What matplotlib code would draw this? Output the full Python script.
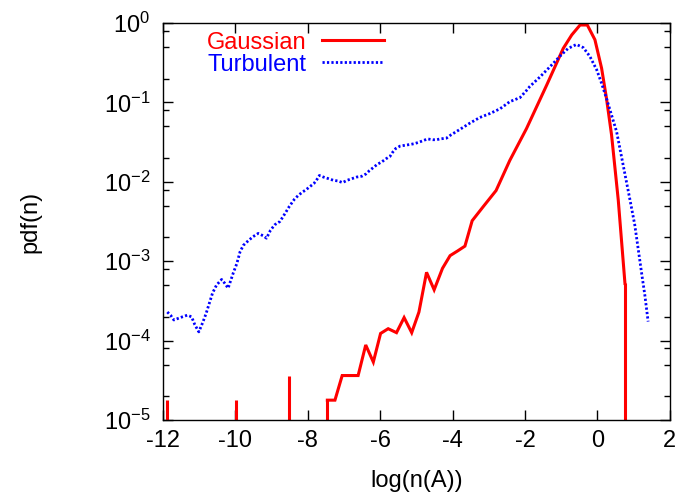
import numpy as np
import matplotlib
matplotlib.use('Agg')
import matplotlib.pyplot as plt
from matplotlib.ticker import LogLocator, FixedLocator, NullLocator

plt.rcParams['font.family'] = ['Liberation Sans', 'DejaVu Sans']
plt.rcParams['mathtext.fontset'] = 'custom'
plt.rcParams['mathtext.rm'] = 'Liberation Sans'
plt.rcParams['mathtext.default'] = 'regular'
plt.rcParams['axes.unicode_minus'] = False

# Gaussian pdf, continuous part (x = log(n), log10 of pdf)
gauss_x = [-7.46, -7.25, -7.05, -6.83, -6.61, -6.40, -6.19, -5.99, -5.78, -5.55,
           -5.34, -5.13, -4.93, -4.72, -4.51, -4.28, -4.07, -3.86, -3.66, -3.46,
           -3.15, -2.80, -2.42, -1.96, -1.40, -0.945, -0.71, -0.48, -0.28, -0.07,
           0.115, 0.25, 0.39, 0.575, 0.76]
gauss_logp = [-4.75, -4.75, -4.44, -4.44, -4.44, -4.055, -4.27, -3.91, -3.85, -3.90,
              -3.71, -3.90, -3.64, -3.14, -3.36, -3.09, -2.93, -2.87, -2.81, -2.49,
              -2.31, -2.11, -1.73, -1.33, -0.78, -0.32, -0.15, -0.025, -0.025, -0.21,
              -0.57, -0.95, -1.41, -2.23, -3.28]

# isolated single/double counts of the Gaussian run
spike_x = [-11.88, -9.99, -8.51]
spike_logp = [-4.75, -4.75, -4.45]

# Turbulent pdf
turb_x = [-11.88, -11.79, -11.70, -11.58, -11.46, -11.33, -11.21, -11.12, -11.01, -10.90,
          -10.81, -10.72, -10.63, -10.52, -10.38, -10.29, -10.20, -10.06, -9.96, -9.87,
          -9.78, -9.64, -9.51, -9.37, -9.23, -9.14, -9.03, -8.91, -8.77, -8.63,
          -8.51, -8.37, -8.26, -8.15, -8.05, -7.94, -7.83, -7.76, -7.68, -7.57,
          -7.43, -7.30, -7.16, -7.04, -6.91, -6.78, -6.65, -6.51, -6.39, -6.30,
          -6.19, -6.08, -5.96, -5.84, -5.73, -5.66, -5.57, -5.45, -5.32, -5.18,
          -5.06, -4.92, -4.81, -4.69, -4.55, -4.44, -4.35, -4.17, -4.05, -3.80,
          -3.52, -3.25, -2.97, -2.69, -2.42, -2.14, -1.94, -1.87, -1.59, -1.31,
          -1.04, -0.81, -0.58, -0.39, -0.21, -0.02, 0.115, 0.25, 0.39, 0.53,
          0.90, 1.03, 1.13, 1.22, 1.31, 1.40]
turb_logp = [-3.64, -3.68, -3.74, -3.72, -3.70, -3.68, -3.70, -3.80, -3.89, -3.77,
             -3.66, -3.53, -3.40, -3.30, -3.23, -3.28, -3.34, -3.15, -3.03, -2.88,
             -2.80, -2.74, -2.69, -2.65, -2.68, -2.71, -2.61, -2.54, -2.50, -2.40,
             -2.31, -2.22, -2.17, -2.13, -2.10, -2.06, -2.02, -1.98, -1.92, -1.94,
             -1.96, -1.98, -1.99, -2.01, -1.98, -1.96, -1.94, -1.93, -1.90, -1.86,
             -1.82, -1.78, -1.75, -1.71, -1.68, -1.63, -1.58, -1.55, -1.54, -1.53,
             -1.52, -1.50, -1.48, -1.46, -1.47, -1.47, -1.46, -1.45, -1.41, -1.34,
             -1.26, -1.19, -1.14, -1.08, -0.99, -0.94, -0.84, -0.80, -0.68, -0.55,
             -0.42, -0.32, -0.27, -0.31, -0.42, -0.59, -0.76, -0.95, -1.16, -1.37,
             -2.23, -2.54, -2.86, -3.15, -3.43, -3.76]

xticks = [-12, -10, -8, -6, -4, -2, 0, 2]
ymin, ymax = 1e-5, 1.0

gauss_p = 10 ** np.array(gauss_logp)
spike_p = 10 ** np.array(spike_logp)
turb_p = 10 ** np.array(turb_logp)

fig = plt.figure(figsize=(6.92, 4.95), dpi=100)
ax = fig.add_axes([0.2355, 0.1515, 0.7325, 0.802])

red = '#ff0000'
blue = '#0000ff'
lw = 2.2
fs = 17

ax.plot(gauss_x, gauss_p, color=red, lw=lw, solid_joinstyle='miter', label='Gaussian')
# vertical drops to the bottom (zero counts on a log axis)
drop_x = spike_x + [gauss_x[0], gauss_x[-1]]
drop_p = list(spike_p) + [gauss_p[0], gauss_p[-1]]
ax.vlines(drop_x, ymin, drop_p, color=red, lw=lw, capstyle='butt')
ax.plot(turb_x, turb_p, color=blue, lw=2.0, linestyle=(0, (0.8, 0.8)), label='Turbulent')

ax.set_yscale('log')
ax.set_xlim(-12, 2)
ax.set_ylim(ymin, ymax)
ax.xaxis.set_major_locator(FixedLocator(xticks))
ax.xaxis.set_minor_locator(NullLocator())
ax.yaxis.set_major_locator(LogLocator(base=10, numticks=10))
ax.yaxis.set_minor_locator(LogLocator(base=10, subs=[2, 5, 8], numticks=10))

ax.tick_params(which='both', direction='in', top=True, right=True, labelsize=fs)
ax.tick_params(which='major', length=7, width=1)
ax.tick_params(which='minor', length=4, width=1)
ax.tick_params(axis='x', pad=7)
ax.tick_params(axis='y', pad=9)
for s in ax.spines.values():
    s.set_linewidth(1)

ax.set_xlabel('log(n(A))', fontsize=fs)
ax.set_ylabel('pdf(n)', fontsize=fs)
ax.xaxis.set_label_coords(0.5, -0.125)
ax.yaxis.set_label_coords(-0.24, 0.5)

leg = ax.legend(loc='upper left', bbox_to_anchor=(0.055, 1.02), frameon=False,
                markerfirst=False, fontsize=fs, handlelength=2.62, handletextpad=0.64,
                labelspacing=0.0, borderpad=0.2, labelcolor='linecolor')

fig.savefig('out.png', dpi=100)
